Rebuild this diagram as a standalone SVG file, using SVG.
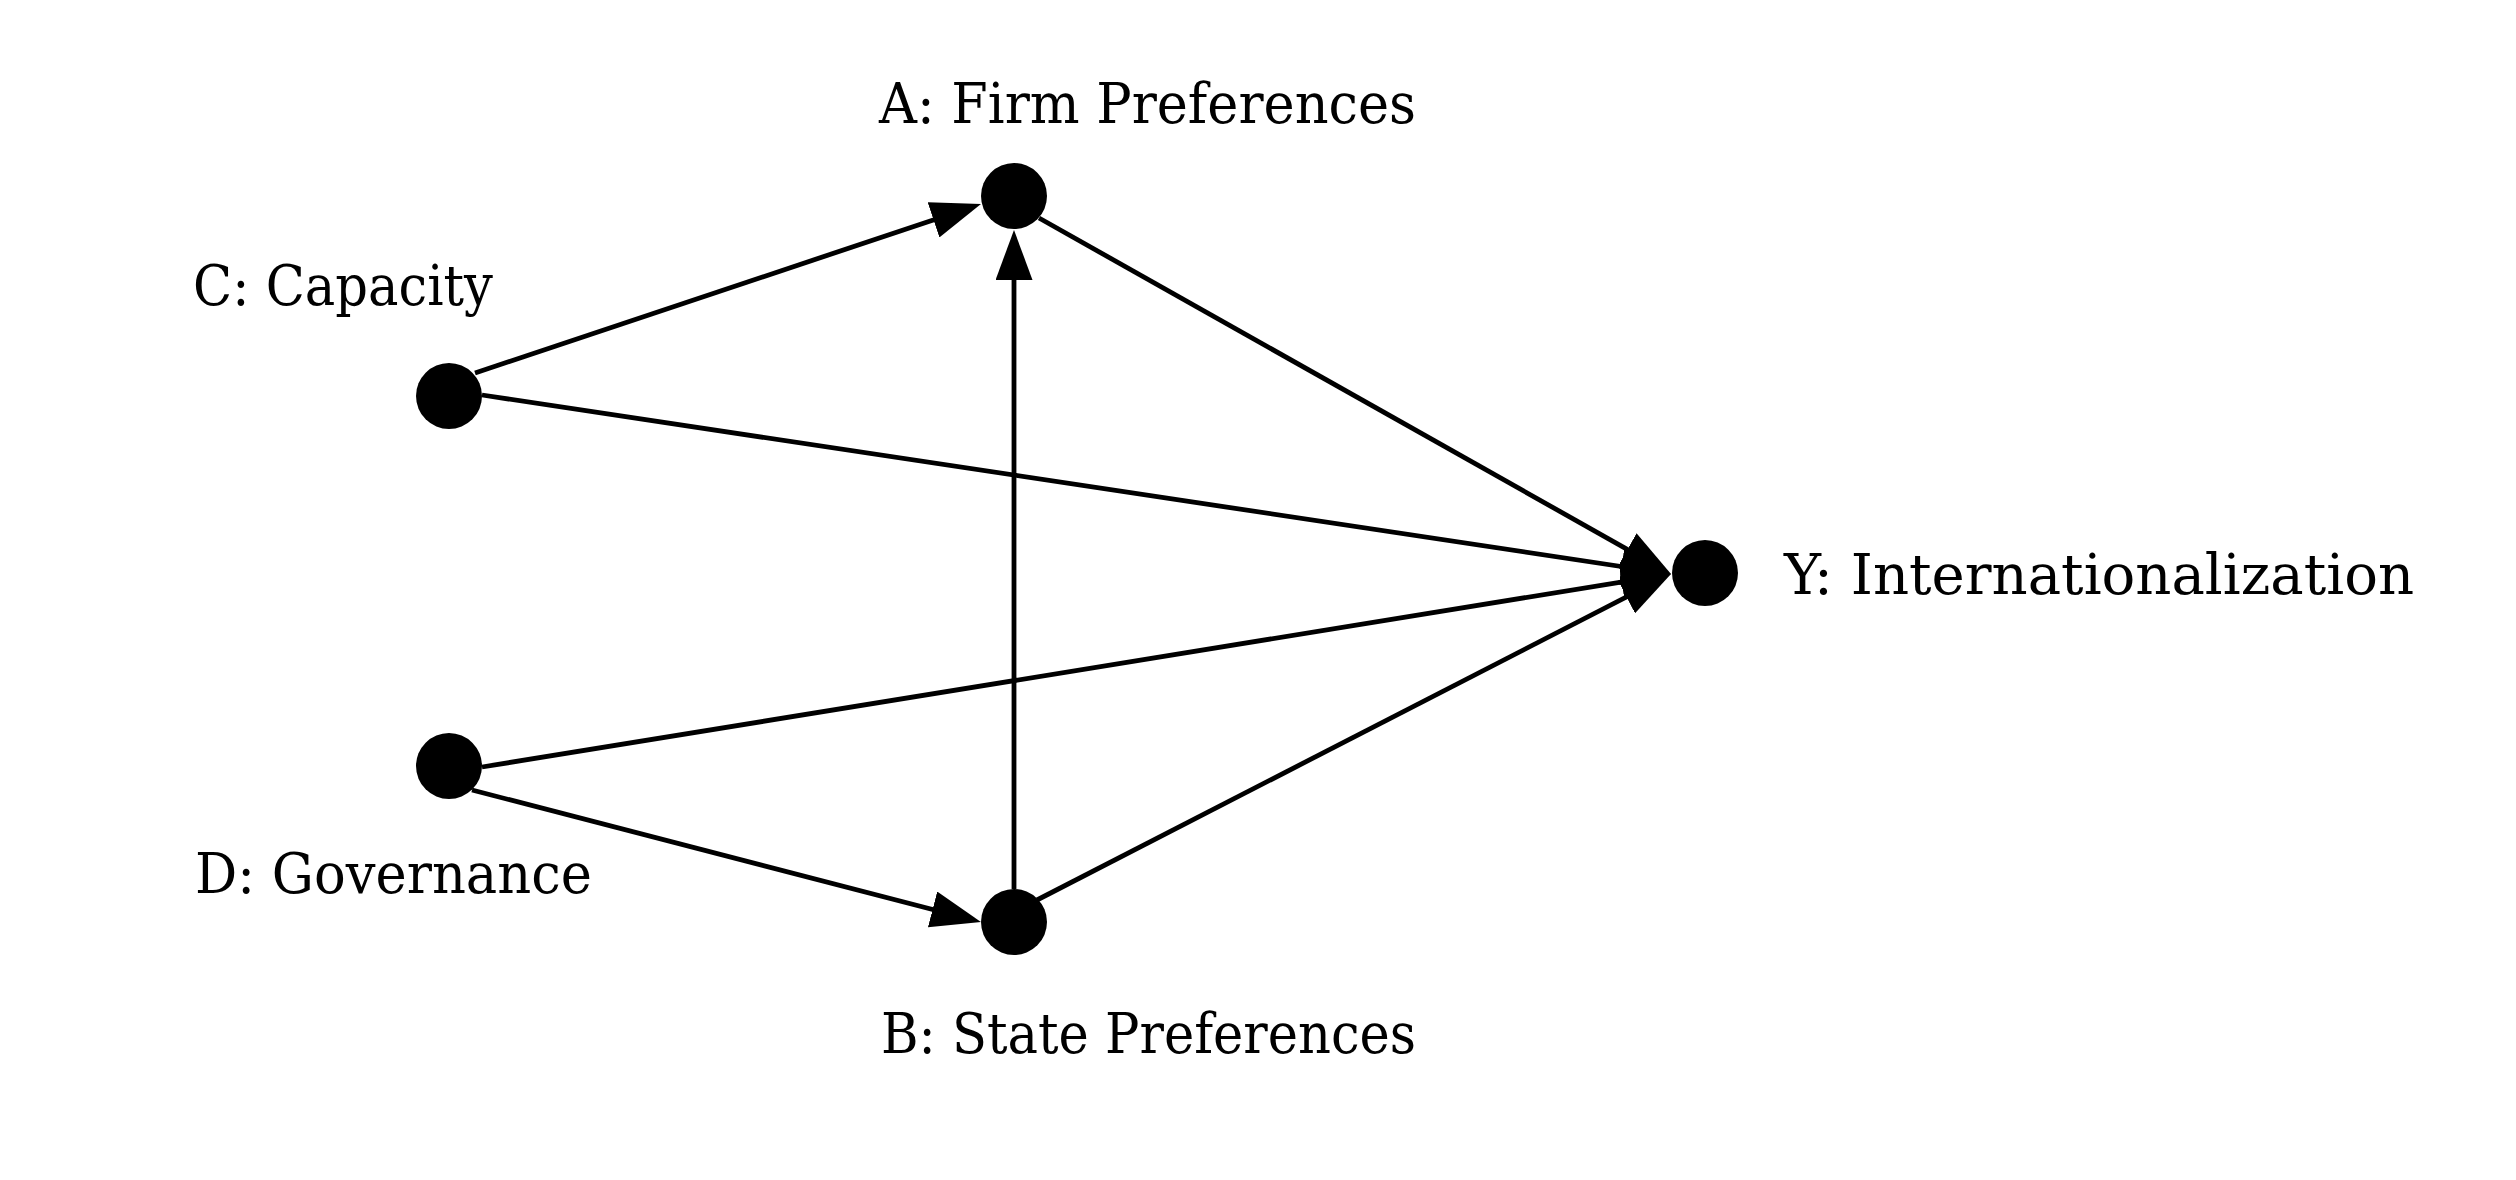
<svg xmlns="http://www.w3.org/2000/svg" width="2516" height="1180" viewBox="0 0 2516 1180">
<style>
.edge{stroke:#000;stroke-width:4.8;fill:none;marker-end:url(#ah)}
.node{fill:#000}
.lbl{font-family:"DejaVu Serif","Liberation Serif",serif;font-size:56px;fill:#000}
</style>
<defs>
<marker id="ah" markerUnits="userSpaceOnUse" markerWidth="50" markerHeight="37" viewBox="0 0 50 37" refX="40" refY="18.5" orient="auto">
<path d="M0,0 L50,18.5 L0,37 z" fill="#000"/>
</marker>
</defs>
<rect width="2516" height="1180" fill="#fff"/>
<g id="edges">
<line class="edge" x1="475" y1="373" x2="971.5" y2="207.2"/>
<line class="edge" x1="482" y1="395" x2="1661.1" y2="572.5"/>
<line class="edge" x1="482" y1="767" x2="1661.1" y2="575.6"/>
<line class="edge" x1="472" y1="790" x2="971.3" y2="919.5"/>
<line class="edge" x1="1014" y1="889" x2="1014" y2="240"/>
<line class="edge" x1="1037" y1="900" x2="1662.1" y2="578.6"/>
<line class="edge" x1="1039" y1="218" x2="1662.3" y2="569.1"/>
</g>
<g id="node-A"><circle class="node" cx="1014" cy="196" r="33"/><text class="lbl" x="879" y="123" textLength="537" lengthAdjust="spacingAndGlyphs">A: Firm Preferences</text></g>
<g id="node-B"><circle class="node" cx="1014" cy="922" r="33"/><text class="lbl" x="881" y="1053" textLength="535" lengthAdjust="spacingAndGlyphs">B: State Preferences</text></g>
<g id="node-C"><circle class="node" cx="449" cy="396" r="33"/><text class="lbl" x="193" y="305" textLength="300" lengthAdjust="spacingAndGlyphs">C: Capacity</text></g>
<g id="node-D"><circle class="node" cx="449" cy="766" r="33"/><text class="lbl" x="195" y="893" textLength="397" lengthAdjust="spacingAndGlyphs">D: Governance</text></g>
<g id="node-Y"><circle class="node" cx="1705" cy="573" r="33"/><text class="lbl" x="1784" y="594" textLength="630" lengthAdjust="spacingAndGlyphs">Y: Internationalization</text></g>
</svg>
